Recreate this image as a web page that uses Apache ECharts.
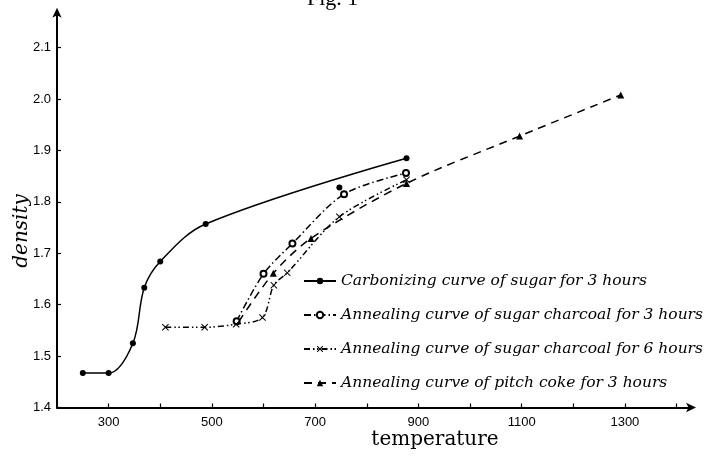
<!DOCTYPE html>
<html>
<head>
<meta charset="utf-8">
<script src="https://cdn.jsdelivr.net/npm/echarts@6/dist/echarts.min.js"></script>
<style>
html,body{margin:0;padding:0;background:#fff;}
#c{width:705px;height:457px;}
</style>
</head>
<body>
<div id="c"></div>
<script>
// ---- data ----
const seriesNames = [
  'Carbonizing curve of sugar for 3 hours',
  'Annealing curve of sugar charcoal for 3 hours',
  'Annealing curve of sugar charcoal for 6 hours',
  'Annealing curve of pitch coke for 3 hours'
];
// [temperature, density]
const carbonSugar = [[250,1.467],[300,1.467],[347,1.525],[369,1.633],[400,1.684],[488,1.757],[877,1.885]];
const carbonSugarOffCurve = [[747,1.828]];
const annealSugar3h = [[548,1.568],[600,1.660],[656,1.719],[756,1.815],[876,1.856]];
const annealSugar6h = [[410,1.556],[486,1.556],[547,1.562],[598,1.575],[620,1.638],[646,1.662],[747,1.771],[877,1.843]];
const pitchCoke3h = [[552,1.567],[619,1.661],[692,1.729],[877,1.836],[1096,1.928],[1292,2.008]];
const xTickValues = [300,400,500,600,700,800,900,1000,1100,1200,1300,1400];
const xLabelValues = [300,500,700,900,1100,1300];
const yTickValues = [1.4,1.5,1.6,1.7,1.8,1.9,2.0,2.1];

const hand = '"DejaVu Serif"';
const crossPath = 'path://M0,1L1,0L5,4L9,0L10,1L6,5L10,9L9,10L5,6L1,10L0,9L4,5Z';

const chart = echarts.init(document.getElementById('c'), null, {renderer:'canvas'});

function lineSeries(name, data, symbol, size, dash, smooth, firstNoSymbol){
  return {
    name: name,
    type: 'line',
    data: data.map((p,i)=> (firstNoSymbol && i===0) ? {value:p, symbol:'none'} : p),
    smooth: smooth,
    symbol: symbol,
    symbolSize: size,
    showSymbol: true,
    lineStyle: {color:'#000', width:1.5, type: dash},
    itemStyle: {color:'#000', borderColor:'#000', opacity:1, borderWidth: symbol==='emptyCircle'?1.3:0},
    emphasis: {disabled:true},
    z: 3
  };
}

chart.setOption({
  animation: false,
  backgroundColor: '#fff',
  grid: {left:57, right:13, top:11.7, bottom:49.5, containLabel:false},
  xAxis: {
    type:'value', min:200, max:1430,
    axisLine:{show:true, lineStyle:{color:'#000', width:2}, symbol:['none','arrow'], symbolSize:[7,10], symbolOffset:[0,4]},
    axisTick:{show:true, inside:true, length:4, lineStyle:{color:'#000', width:1.2}, customValues: xTickValues},
    axisLabel:{color:'#000', fontSize:13, fontFamily:'"Liberation Sans"', margin:8, customValues: xLabelValues,
      formatter: v => String(v)},
    splitLine:{show:false}
  },
  yAxis: {
    type:'value', min:1.4, max:2.17,
    axisLine:{show:true, onZero:false, lineStyle:{color:'#000', width:2}, symbol:['none','arrow'], symbolSize:[7,10], symbolOffset:[0,4]},
    axisTick:{show:true, inside:true, length:4, lineStyle:{color:'#000', width:1.2}, customValues: yTickValues},
    axisLabel:{color:'#000', fontSize:13, fontFamily:'"Liberation Sans"', margin:6, customValues: yTickValues,
      formatter: v => v.toFixed(1)},
    splitLine:{show:false}
  },
  legend: {
    data: seriesNames,
    orient:'vertical',
    left: 303, top: 273, padding: 0,
    itemWidth: 32, itemHeight: 8, itemGap: 18,
    textStyle:{color:'#000', fontSize:15.5, lineHeight:16, fontFamily:hand, fontStyle:'italic'},
    selectedMode:false
  },
  series: [
    lineSeries(seriesNames[0], carbonSugar, 'circle', 6, 'solid', 0.35),
    lineSeries(seriesNames[1], annealSugar3h, 'emptyCircle', 6, [7,3,1.5,3], 0.3),
    lineSeries(seriesNames[2], annealSugar6h, crossPath, 7, [6,3,1.5,2.5,1.5,3], 0.3),
    lineSeries(seriesNames[3], pitchCoke3h, 'triangle', 7, [8,6], 0.3, true),
    {
      name:'carbon-extra', type:'scatter', data: carbonSugarOffCurve,
      symbol:'circle', symbolSize:6, itemStyle:{color:'#000', opacity:1}, emphasis:{disabled:true}, z:3
    }
  ],
  graphic: [
    {type:'text', x:307, y:10, style:{text:'Fig. 1', font:'22px "Liberation Serif"', fill:'#000', verticalAlign:'bottom'}},
    {type:'text', x:22, y:231, rotation:Math.PI/2,
      style:{text:'density', font:'italic 20px '+hand, fill:'#000', align:'center', verticalAlign:'middle'}},
    {type:'text', x:435, y:440,
      style:{text:'temperature', font:'20px '+hand, fill:'#000', align:'center', verticalAlign:'middle'}}
  ]
});
</script>
</body>
</html>
